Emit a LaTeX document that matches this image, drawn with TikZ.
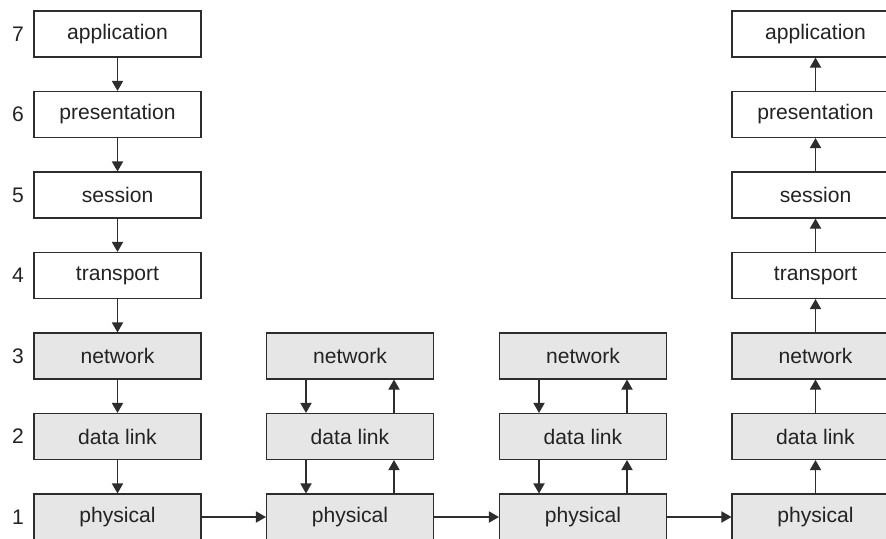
\documentclass[tikz,border=0pt]{standalone}
\usepackage{fontspec}
\setmainfont{Liberation Sans}
\usepackage{xcolor}
\usepackage{tikz}
\usetikzlibrary{arrows.meta, positioning}
\definecolor{OSIGray}{RGB}{230, 230, 230}
\definecolor{OSILine}{RGB}{45, 45, 45}
\definecolor{OSIText}{RGB}{35, 35, 35}

\begin{document}
\begin{tikzpicture}[every node/.style={font=\fontsize{15}{18}\selectfont, text=OSIText},
    upper/.style={draw=OSILine, line width=0.8pt, fill=white, minimum width=4.175cm, minimum height=1.15cm, inner sep=0pt},
    lower/.style={upper, fill=OSIGray},
    flow/.style={-{Triangle[length=0.25cm, width=0.28cm]}, line width=0.8pt, color=OSILine}]
  \useasboundingbox (0,0) rectangle (22.15,-13.45);
  % layer numbers
  \node (n7) at (0.45,-0.85) {7};
  \node (n6) at (0.45,-2.8625) {6};
  \node (n5) at (0.45,-4.875) {5};
  \node (n4) at (0.45,-6.8875) {4};
  \node (n3) at (0.45,-8.9) {3};
  \node (n2) at (0.45,-10.9125) {2};
  \node (n1) at (0.45,-12.925) {1};
  % sending host
  \node[upper] (a7) at (2.9375,-0.85) {application};
  \node[upper] (a6) at (2.9375,-2.8625) {presentation};
  \node[upper] (a5) at (2.9375,-4.875) {session};
  \node[upper] (a4) at (2.9375,-6.8875) {transport};
  \node[lower] (a3) at (2.9375,-8.9) {network};
  \node[lower] (a2) at (2.9375,-10.9125) {data link};
  \node[lower] (a1) at (2.9375,-12.925) {physical};
  % first router
  \node[lower] (b3) at (8.75,-8.9) {network};
  \node[lower] (b2) at (8.75,-10.9125) {data link};
  \node[lower] (b1) at (8.75,-12.925) {physical};
  % second router
  \node[lower] (c3) at (14.575,-8.9) {network};
  \node[lower] (c2) at (14.575,-10.9125) {data link};
  \node[lower] (c1) at (14.575,-12.925) {physical};
  % receiving host
  \node[upper] (d7) at (20.3875,-0.85) {application};
  \node[upper] (d6) at (20.3875,-2.8625) {presentation};
  \node[upper] (d5) at (20.3875,-4.875) {session};
  \node[upper] (d4) at (20.3875,-6.8875) {transport};
  \node[lower] (d3) at (20.3875,-8.9) {network};
  \node[lower] (d2) at (20.3875,-10.9125) {data link};
  \node[lower] (d1) at (20.3875,-12.925) {physical};
  % down the stack
  \draw[flow] (a7) -- (a6);
  \draw[flow] (a6) -- (a5);
  \draw[flow] (a5) -- (a4);
  \draw[flow] (a4) -- (a3);
  \draw[flow] (a3) -- (a2);
  \draw[flow] (a2) -- (a1);
  % across the wire
  \draw[flow] (a1) -- (b1);
  \draw[flow] (b1) -- (c1);
  \draw[flow] (c1) -- (d1);
  % through the routers
  \draw[flow] ([xshift=-1.1cm]b3.south) -- ([xshift=-1.1cm]b2.north);
  \draw[flow] ([xshift=-1.1cm]b2.south) -- ([xshift=-1.1cm]b1.north);
  \draw[flow] ([xshift=1.1cm]b1.north) -- ([xshift=1.1cm]b2.south);
  \draw[flow] ([xshift=1.1cm]b2.north) -- ([xshift=1.1cm]b3.south);
  \draw[flow] ([xshift=-1.1cm]c3.south) -- ([xshift=-1.1cm]c2.north);
  \draw[flow] ([xshift=-1.1cm]c2.south) -- ([xshift=-1.1cm]c1.north);
  \draw[flow] ([xshift=1.1cm]c1.north) -- ([xshift=1.1cm]c2.south);
  \draw[flow] ([xshift=1.1cm]c2.north) -- ([xshift=1.1cm]c3.south);
  % up the stack
  \draw[flow] (d1) -- (d2);
  \draw[flow] (d2) -- (d3);
  \draw[flow] (d3) -- (d4);
  \draw[flow] (d4) -- (d5);
  \draw[flow] (d5) -- (d6);
  \draw[flow] (d6) -- (d7);
\end{tikzpicture}
\end{document}
